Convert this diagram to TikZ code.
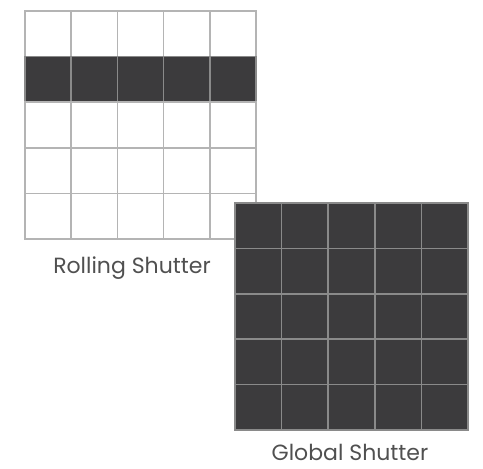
\documentclass[tikz,border=0pt]{standalone}
\usepackage{fontspec}
\setmainfont{Poppins}
\usepackage{xcolor}
\definecolor{pixdark}{HTML}{3C3B3D}
\definecolor{gridlight}{HTML}{B4B4B4}
\definecolor{griddark}{HTML}{8A8A8A}
\definecolor{labelgray}{HTML}{505050}

\begin{document}
\begin{tikzpicture}[x=1pt, y=-1pt,
        pixel/.style={draw=gridlight, line width=1.6pt, fill=white},
        pixon/.style={draw=griddark, line width=1.6pt, fill=pixdark},
        caption/.style={font=\fontsize{22}{26}\selectfont, text=labelgray, anchor=base, inner sep=0pt}
    ]
        \useasboundingbox (0,0) rectangle (483,469);

        % Rolling shutter: one row exposed
        \foreach \r in {0,...,4} {
            \foreach \c in {0,...,4} {
                \ifnum\r=1
                    \draw[pixon] (25+46.2*\c,11+45.6*\r) rectangle ++(46.2,45.6);
                \else
                    \draw[pixel] (25+46.2*\c,11+45.6*\r) rectangle ++(46.2,45.6);
                \fi
            }
        }
        \node[caption] (RollLabel) at (132,273) {Rolling Shutter};

        % Global shutter: all pixels exposed
        \foreach \r in {0,...,4} {
            \foreach \c in {0,...,4} {
                \draw[pixon] (235+46.6*\c,203+45.4*\r) rectangle ++(46.6,45.4);
            }
        }
        \node[caption] (GlobLabel) at (350,460) {Global Shutter};
    \end{tikzpicture}
\end{document}
